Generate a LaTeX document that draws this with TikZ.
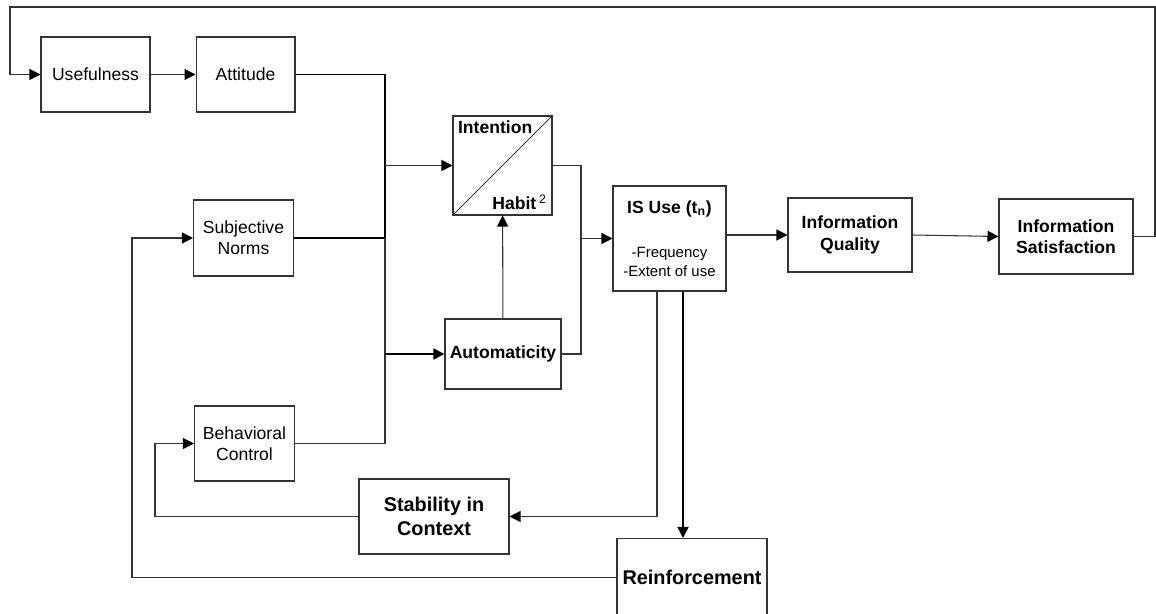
\documentclass[tikz,border=0pt]{standalone}
\usepackage{fontspec}
\setmainfont{Liberation Sans}
\usetikzlibrary{arrows.meta,positioning,calc}

\begin{document}
\begin{tikzpicture}[x=0.02cm,y=-0.02cm,>={Triangle[length=2.2mm,width=2.2mm,fill=black,color=black]},
			node distance=0.9cm]
			\tikzstyle{box}=[draw=black!80,line width=0.6pt,align=center,inner sep=2pt,font=\fontsize{10}{12}\selectfont]
			\tikzstyle{bbox}=[box,font=\fontsize{10}{12}\selectfont\bfseries]
			\tikzstyle{big}=[box,font=\fontsize{11.3}{13.6}\selectfont\bfseries]
			\tikzstyle{wire}=[draw=black!80,line width=0.6pt]
			\tikzstyle{heavy}=[draw=black,line width=0.9pt]
			\useasboundingbox (0,0) rectangle (1156,614);
			
			% boxes
			\node[box, minimum width=2.18cm, minimum height=1.5cm]  (use)  at (95.5,74.5)  {Usefulness};
			\node[box, minimum width=1.98cm, minimum height=1.5cm]  (att)  [right=of use]  {Attitude};
			\node[box, minimum width=2cm, minimum height=1.52cm]    (sn)   at (243.5,238)  {Subjective\\Norms};
			\node[box, minimum width=2cm, minimum height=1.5cm]     (bc)   at (244.5,443.5) {Behavioral\\Control};
			\node[box, minimum width=1.98cm, minimum height=1.98cm] (ih)   at (502.5,165.5) {};
			\node[bbox, minimum width=2.32cm, minimum height=1.4cm] (auto) at (503,354)     {Automaticity};
			\node[box, minimum width=2.26cm, minimum height=2.1cm, font=\fontsize{8.5}{10.5}\selectfont] (isu) at (669.5,238.5)
				{{\fontsize{10}{12}\selectfont\bfseries IS Use (t\textsubscript{n})}\\[15pt]-Frequency\\-Extent of use};
			\node[bbox, minimum width=2.48cm, minimum height=1.48cm] (iq)   at (850,235)    {Information\\Quality};
			\node[bbox, minimum width=2.68cm, minimum height=1.5cm]  (isat) at (1066,236.5) {Information\\Satisfaction};
			\node[big, minimum width=3cm, minimum height=1.5cm]      (stab) at (434,516.5)  {Stability in\\Context};
			\node[big, minimum width=3cm, minimum height=1.56cm]     (reinf) at (692,577.5) {Reinforcement};
			
			% split box
			\draw[wire] (ih.south west) -- (ih.north east);
			\node[anchor=north west, inner sep=3pt, font=\fontsize{10}{12}\selectfont\bfseries] (intlbl) at (ih.north west) {Intention};
			\node[anchor=south east, inner sep=3pt, font=\fontsize{10}{12}\selectfont\bfseries] (habitlbl) at (ih.south east) {Habit\,\textsuperscript{\mdseries 2}};
			
			% bends
			\coordinate (bus)   at (385,0);
			\coordinate (merge) at (581,0);
			\coordinate (tapA)  at (657,0);
			\coordinate (tapB)  at (683,0);
			\coordinate (ret)   at (155,0);
			\coordinate (back)  at (132,0);
			\coordinate (topR)  at (1155,7);
			\coordinate (topL)  at (10,7);
			
			\draw[wire,->] (use) -- (att);
			\draw[heavy] (att.east) -| (bus |- sn.east) -- (sn.east);
			\draw[wire] (bus |- sn.east) -- (bus |- bc.east) -- (bc.east);
			\draw[wire,->] (bus |- ih.west) -- (ih.west);
			\draw[heavy,->] (bus |- auto.west) -- (auto.west);
			\draw[wire,->] (auto) -- (ih);
			\draw[wire] (ih.east) -| (merge |- auto.east) -- (auto.east);
			\draw[wire,->] (merge |- isu.west) -- (isu.west);
			\draw[wire,->] (isu.east |- iq.west) -- (iq.west);
			\draw[wire,->] (iq.east) -- (isat.west);
			\draw[wire,->] (isat.east) -| (topR) -- (topL) |- (use.west);
			\draw[wire,->] (isu.south -| tapA) |- (stab.east);
			\draw[heavy,->] (isu.south -| tapB) -- (reinf.north -| tapB);
			\draw[wire,->] (stab.west) -| (ret |- bc.west) -- (bc.west);
			\draw[wire,->] (reinf.west) -| (back |- sn.west) -- (sn.west);
\end{tikzpicture}
\end{document}
